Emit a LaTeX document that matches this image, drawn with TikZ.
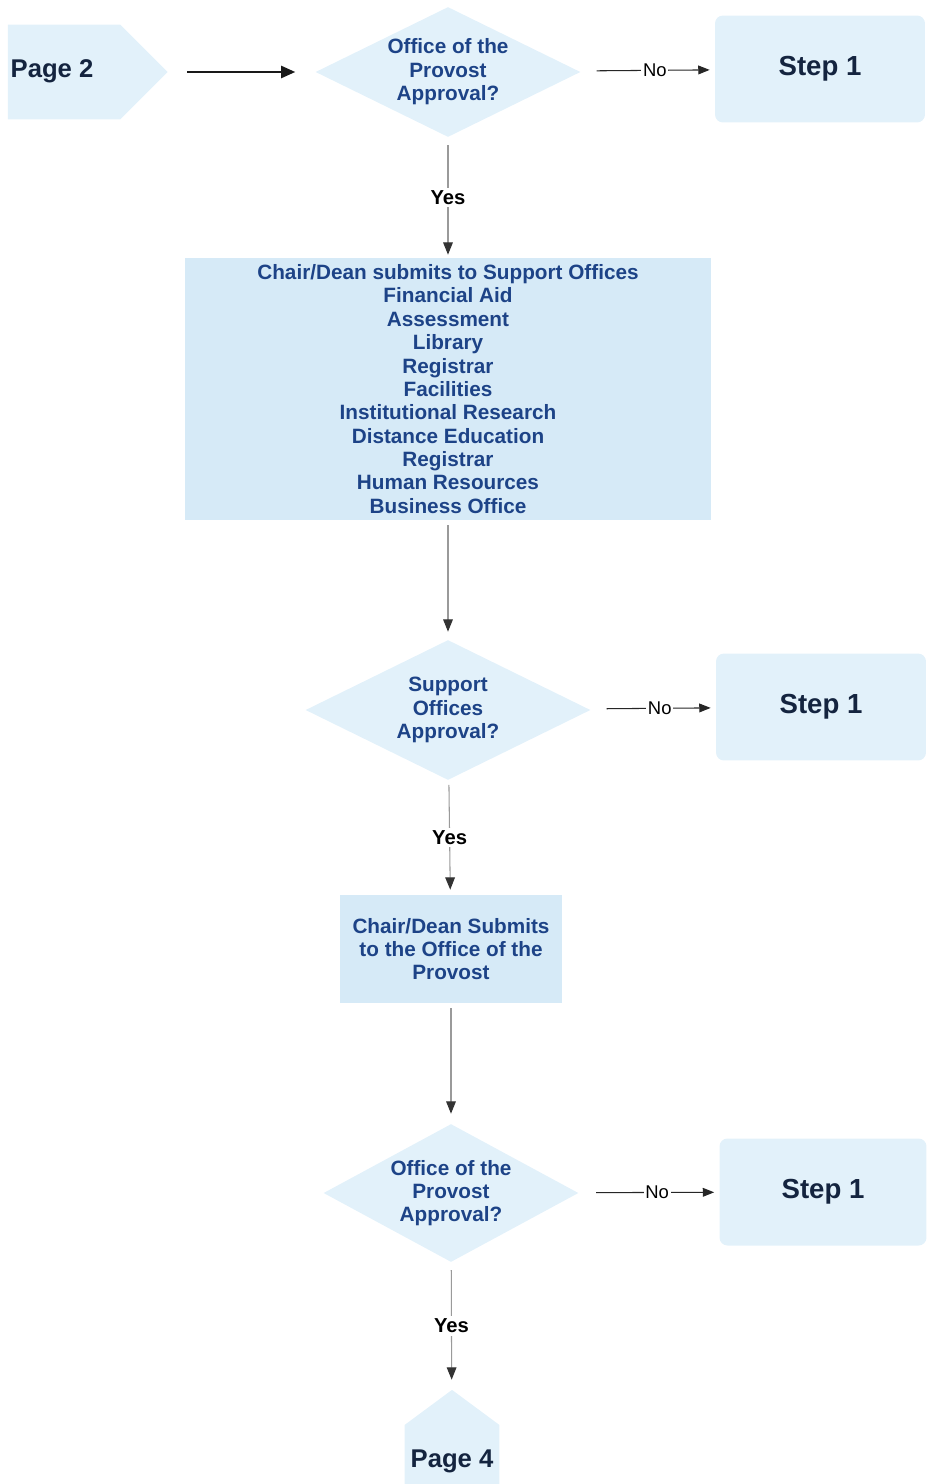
\documentclass[tikz,border=0pt]{standalone}
\usepackage{fontspec}
\setmainfont{Liberation Sans}
\usepackage{tikz}
\usepackage{xcolor}
\usetikzlibrary{arrows.meta,shapes.geometric,shapes.symbols}

\definecolor{boxblue}{HTML}{D6EAF7}
\definecolor{paleblue}{HTML}{E2F1FA}
\definecolor{textblue}{HTML}{1D4387}
\definecolor{navy}{HTML}{14243F}
\definecolor{linegray}{HTML}{9A9A9A}

\tikzset{
  decision/.style={diamond,aspect=2,fill=paleblue,inner sep=0pt,align=center,
    text=textblue,font=\fontsize{11.8}{13.3}\selectfont\bfseries},
  process/.style={rectangle,fill=boxblue,inner sep=0pt,align=center,
    text=textblue,font=\fontsize{11.8}{13.3}\selectfont\bfseries},
  stepbox/.style={rectangle,rounded corners=4.5pt,fill=paleblue,
    minimum width=4.2cm,minimum height=2.14cm,text=navy,
    font=\fontsize{15.7}{18}\selectfont\bfseries},
  pagelink/.style={signal,fill=paleblue,inner sep=0pt},
  pagetext/.style={text=navy,font=\fontsize{14.6}{17}\selectfont\bfseries},
  flow/.style={draw=linegray,line width=0.6pt,
    -{Triangle[length=7pt,width=5.5pt,color=black!80]}},
  noflow/.style={draw=black!85,line width=0.6pt,
    -{Triangle[length=6.5pt,width=5pt]},shorten <=0.36cm,shorten >=0.1cm},
  bigflow/.style={draw=black!90,line width=0.9pt,
    -{Triangle[length=8pt,width=7pt]}},
  yeslbl/.style={fill=white,inner sep=1.5pt,text=black,
    font=\fontsize{11.5}{13}\selectfont\bfseries},
  nolbl/.style={fill=white,inner sep=1pt,text=black,pos=0.56,
    font=\fontsize{10.5}{12}\selectfont}
}

\begin{document}
\begin{tikzpicture}[x=0.02cm,y=-0.02cm]
\useasboundingbox (0,0) rectangle (927,1484);

% top row
\node[pagelink,signal to=east,signal pointer angle=90,
  minimum width=3.2cm,minimum height=1.9cm] (page2) at (64,72) {};
\node[pagetext] (page2txt) at (52,71) {Page 2};
\node[decision,minimum width=5.3cm,minimum height=2.6cm] (prov1) at (448,72)
  {Office of the\\Provost\\Approval?};
\node[stepbox] (step1a) at (820,69) {Step 1};

% support offices
\node[process,minimum width=10.54cm,minimum height=5.24cm] (offices) at (448,389)
  {Chair/Dean submits to Support Offices\\Financial Aid\\Assessment\\Library\\
   Registrar\\Facilities\\Institutional Research\\Distance Education\\
   Registrar\\Human Resources\\Business Office};
\node[decision,minimum width=5.7cm,minimum height=2.8cm] (support) at (448,710)
  {Support\\Offices\\Approval?};
\node[stepbox] (step1b) at (821,707) {Step 1};

% back to the provost
\node[process,minimum width=4.44cm,minimum height=2.16cm] (submit) at (451,949)
  {Chair/Dean Submits\\to the Office of the\\Provost};
\node[decision,minimum width=5.1cm,minimum height=2.76cm] (prov2) at (451,1193)
  {Office of the\\Provost\\Approval?};
\node[stepbox,minimum width=4.14cm] (step1c) at (823,1192) {Step 1};
\node[pagelink,signal to=north,signal pointer angle=107,
  minimum width=1.9cm,minimum height=2.2cm] (page4) at (452,1480) {};
\node[pagetext] (page4txt) at (452,1461) {Page 4};

% connectors
\draw[bigflow,shorten <=0.38cm,shorten >=0.4cm] (page2) -- (prov1);
\draw[noflow] (prov1) -- node[nolbl] {No} (step1a);
\draw[noflow] (support) -- node[nolbl] {No} (step1b);
\draw[noflow] (prov2) -- node[nolbl] {No} (step1c);
\draw[flow,shorten <=0.16cm,shorten >=0.06cm] (prov1) -- node[yeslbl] {Yes} (offices);
\draw[flow,shorten <=0.1cm,shorten >=0.16cm] (offices) -- (support);
\draw[flow,shorten <=0.1cm,shorten >=0.1cm] (support) -- node[yeslbl] {Yes} (submit);
\draw[flow,shorten <=0.1cm,shorten >=0.2cm] (submit) -- (prov2);
\draw[flow,shorten <=0.16cm,shorten >=0.2cm] (prov2) -- node[yeslbl] {Yes} (page4);
\end{tikzpicture}
\end{document}
